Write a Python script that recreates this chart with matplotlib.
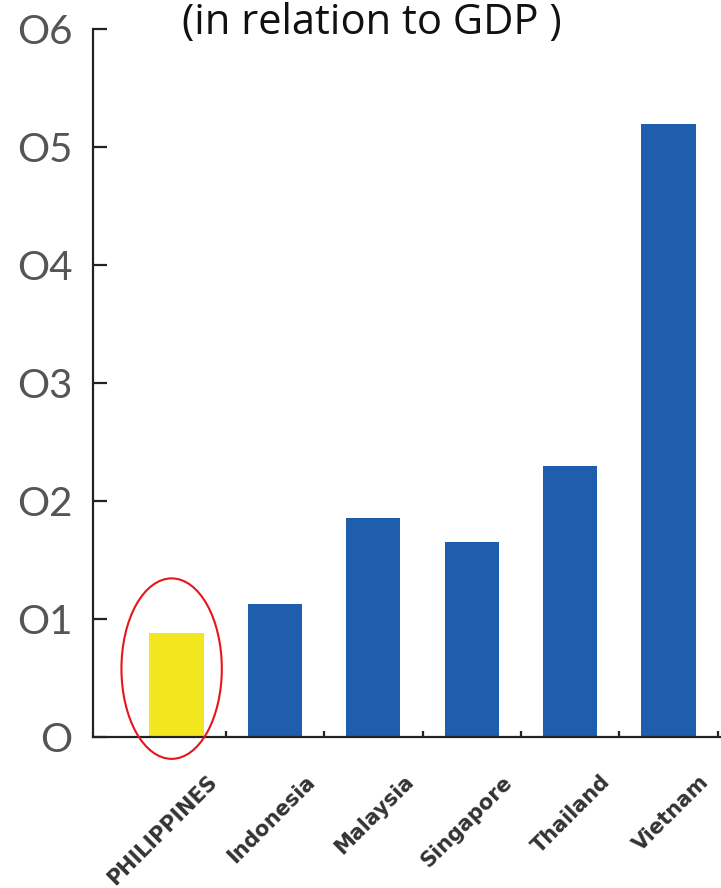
import matplotlib
matplotlib.use("Agg")
import matplotlib.pyplot as plt
from matplotlib.patches import Ellipse
from matplotlib.transforms import ScaledTranslation

countries = ["PHILIPPINES", "Indonesia", "Malaysia", "Singapore", "Thailand", "Vietnam"]
values = [0.088, 0.113, 0.186, 0.165, 0.230, 0.520]
bar_colors = ["#f2e71e", "#1f5eac", "#1f5eac", "#1f5eac", "#1f5eac", "#1f5eac"]
ytick_values = [0.0, 0.1, 0.2, 0.3, 0.4, 0.5, 0.6]
ytick_labels = ["O", "O1", "O2", "O3", "O4", "O5", "O6"]
title = "(in relation to GDP )"

fig = plt.figure(figsize=(7.21, 8.88), dpi=100)
ax = fig.add_axes([0.129, 0.170, 0.871, 0.797])

x = list(range(len(countries)))
ax.bar(x, values, width=0.55, color=bar_colors, zorder=2)

ax.set_xlim(-0.849, 5.533)
ax.set_ylim(0, 0.6)

for side in ("top", "right"):
    ax.spines[side].set_visible(False)
for side in ("left", "bottom"):
    ax.spines[side].set_linewidth(1.6)
    ax.spines[side].set_color("#222222")

ax.set_yticks(ytick_values)
ax.set_yticklabels(ytick_labels, fontsize=29, color="#555555", family="Lato")
ax.tick_params(axis="y", direction="in", length=10, width=1.6, color="#222222", pad=15)

ax.set_xticks(x)
ax.set_xticklabels(countries, fontsize=15, fontweight="bold", color="#333333",
                   rotation=45, ha="right", va="center", rotation_mode="anchor")
ax.tick_params(axis="x", which="major", length=0, pad=30)
ax.set_xticks([i + 0.5 for i in x], minor=True)
ax.tick_params(axis="x", which="minor", direction="in", length=4, width=1.6, color="#222222")

offset = ScaledTranslation(37 / 100, 0, fig.dpi_scale_trans)
for lbl in ax.get_xticklabels():
    lbl.set_transform(lbl.get_transform() + offset)

# highlight the Philippines bar
ax.add_patch(Ellipse((-0.05, 0.058), width=1.02, height=0.153, fill=False,
                     edgecolor="#e8141b", linewidth=1.5, clip_on=False, zorder=3))

fig.text(0.515, 1 - 34 / 888, title, fontsize=30, family="Open Sans",
         ha="center", va="baseline", color="#111111")

fig.savefig("out.png", dpi=100)
